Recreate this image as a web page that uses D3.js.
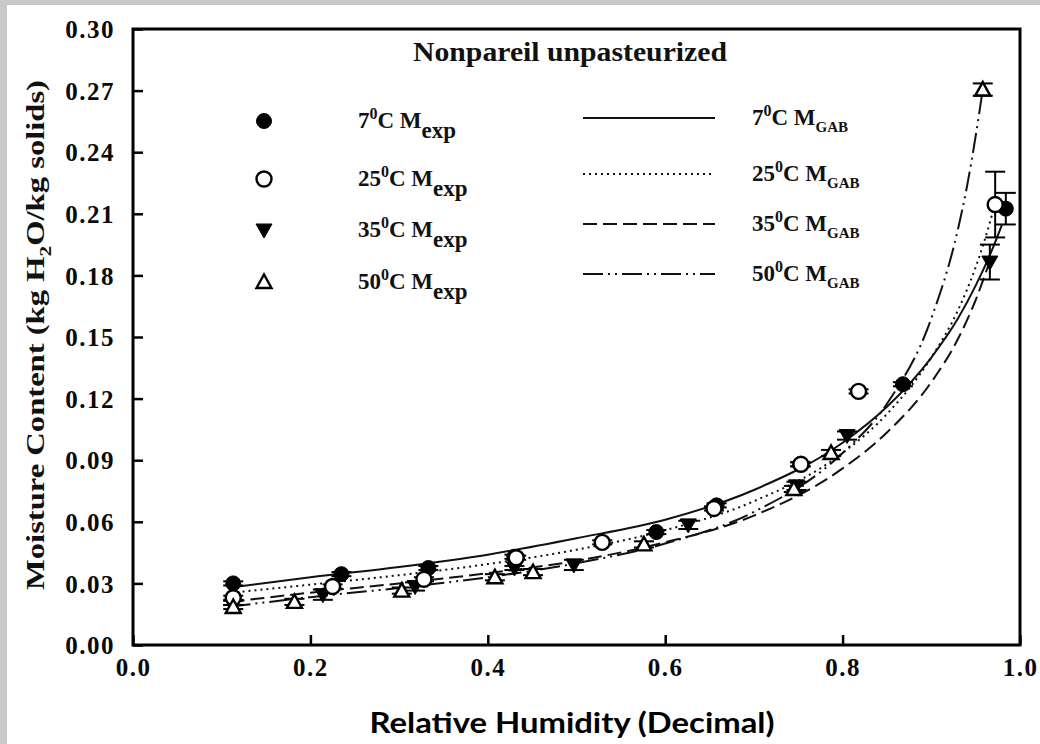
<!DOCTYPE html>
<html><head><meta charset="utf-8">
<script src="https://cdn.jsdelivr.net/npm/d3@7"></script>
<style>body{margin:0;background:#fff} svg{display:block}</style>
</head><body>
<svg id="chart" width="1040" height="744"></svg>
<script>
// ---------- data ----------
const chartTitle = "Nonpareil unpasteurized";
const xTitle = "Relative Humidity (Decimal)";
const yTitleParts = ["Moisture Content (kg H", "2", "O/kg solids)"];
const temps = ["7", "25", "35", "50"];
const xTickValues = [0, 0.2, 0.4, 0.6, 0.8, 1.0];
const yTickValues = [0, 0.03, 0.06, 0.09, 0.12, 0.15, 0.18, 0.21, 0.24, 0.27, 0.30];

// experimental points (aw, moisture, error)
const aw7  = [0.113, 0.235, 0.333, 0.430, 0.590, 0.658, 0.752, 0.868, 0.984];
const m7   = [0.030, 0.0345, 0.0375, 0.043, 0.055, 0.068, 0.088, 0.127, 0.2125];
const e7   = [0.001, 0.001, 0.001, 0.001, 0.001, 0.001, 0.001, 0.001, 0.0077];

const aw25 = [0.113, 0.225, 0.328, 0.432, 0.529, 0.655, 0.753, 0.818, 0.972];
const m25  = [0.023, 0.0285, 0.032, 0.0425, 0.050, 0.0665, 0.088, 0.1235, 0.2145];
const e25  = [0.001, 0.001, 0.001, 0.001, 0.001, 0.001, 0.001, 0.001, 0.016];

const aw35 = [0.113, 0.214, 0.318, 0.430, 0.497, 0.626, 0.748, 0.805, 0.966];
const m35  = [0.0205, 0.0245, 0.0285, 0.0375, 0.039, 0.0585, 0.0775, 0.102, 0.1865];
const e35  = [0.001, 0.0025, 0.002, 0.001, 0.0025, 0.002, 0.002, 0.002, 0.0085];

const aw50 = [0.113, 0.182, 0.303, 0.408, 0.451, 0.576, 0.745, 0.787, 0.958];
const m50  = [0.0185, 0.021, 0.0265, 0.033, 0.0355, 0.049, 0.076, 0.0935, 0.2705];
const e50  = [0.001, 0.0015, 0.0015, 0.0015, 0.0015, 0.0015, 0.0015, 0.0015, 0.003];

// GAB fitted curves
const fitAw7  = [0.11, 0.2, 0.3, 0.4, 0.5, 0.6, 0.7, 0.8, 0.85, 0.9, 0.93, 0.95, 0.97, 0.98];
const fitM7   = [0.028, 0.033, 0.038, 0.044, 0.052, 0.061, 0.0755, 0.0985, 0.116, 0.140, 0.159, 0.175, 0.194, 0.205];
const fitAw25 = [0.11, 0.2, 0.3, 0.4, 0.5, 0.6, 0.7, 0.8, 0.85, 0.9, 0.93, 0.95, 0.96, 0.972];
const fitM25  = [0.0254, 0.0294, 0.034, 0.0394, 0.0464, 0.0559, 0.070, 0.0935, 0.1125, 0.140, 0.163, 0.184, 0.197, 0.215];
const fitAw35 = [0.11, 0.2, 0.3, 0.4, 0.5, 0.6, 0.7, 0.8, 0.85, 0.9, 0.93, 0.95, 0.966];
const fitM35  = [0.021, 0.0255, 0.030, 0.035, 0.041, 0.050, 0.063, 0.086, 0.1035, 0.128, 0.149, 0.168, 0.187];
const fitAw50 = [0.11, 0.2, 0.3, 0.4, 0.5, 0.6, 0.7, 0.8, 0.85, 0.9, 0.93, 0.94, 0.95, 0.958];
const fitM50  = [0.0187, 0.0233, 0.0278, 0.033, 0.0398, 0.0494, 0.0648, 0.0935, 0.1175, 0.159, 0.2024, 0.2228, 0.2478, 0.2705];

// ---------- layout ----------
const W = 1040, H = 744;
const svg = d3.select("#chart");
const serif = "'Liberation Serif', 'Times New Roman', serif";
svg.append("rect").attr("width", W).attr("height", H).attr("fill", "#fff");
svg.append("rect").attr("x", 0).attr("y", 0).attr("width", W).attr("height", 5).attr("fill", "#c8c8c8");
svg.append("rect").attr("x", 0).attr("y", 0).attr("width", 7).attr("height", H).attr("fill", "#c8c8c8");

const x = d3.scaleLinear().domain([0, 1]).range([133, 1020]);
const y = d3.scaleLinear().domain([0, 0.30]).range([645, 29]);

// axes
const xAxis = svg.append("g").attr("transform", `translate(0,${y(0)})`)
  .call(d3.axisBottom(x).tickValues(xTickValues).tickSize(-10).tickPadding(10).tickFormat(d3.format(".1f")));
const yAxis = svg.append("g").attr("transform", `translate(${x(0)},0)`)
  .call(d3.axisLeft(y).tickValues(yTickValues).tickSize(-10).tickPadding(18).tickFormat(d3.format(".2f")));
[xAxis, yAxis].forEach(a => {
  a.select(".domain").remove();
  a.selectAll(".tick line").attr("stroke", "#000").attr("stroke-width", 2.5);
  a.selectAll(".tick text").attr("fill", "#0a0a0a").attr("font-family", serif)
    .attr("font-weight", "bold").attr("font-size", 25).attr("letter-spacing", 1.5);
});
xAxis.selectAll(".tick text").attr("dy", "0.85em");
yAxis.selectAll(".tick text").attr("dy", "0.35em");

// frame
svg.append("rect").attr("x", x(0)).attr("y", y(0.30)).attr("width", x(1) - x(0)).attr("height", y(0) - y(0.30))
  .attr("fill", "none").attr("stroke", "#000").attr("stroke-width", 3);

// title
svg.append("text").attr("x", 570).attr("y", 61).attr("text-anchor", "middle")
  .attr("font-family", serif).attr("font-weight", "bold").attr("font-size", 27)
  .attr("textLength", 314).attr("lengthAdjust", "spacingAndGlyphs").attr("fill", "#111").text(chartTitle);

// axis titles
svg.append("text").attr("x", 572).attr("y", 733).attr("text-anchor", "middle")
  .attr("font-family", "Lato, 'Open Sans', sans-serif").attr("font-weight", "bold").attr("font-size", 29)
  .attr("textLength", 405).attr("lengthAdjust", "spacingAndGlyphs").attr("fill", "#000").text(xTitle);

const yt = svg.append("text").attr("transform", "translate(44,335) rotate(-90)").attr("text-anchor", "middle")
  .attr("font-family", serif).attr("font-weight", "bold").attr("font-size", 26).attr("fill", "#111")
  .attr("textLength", 510).attr("lengthAdjust", "spacingAndGlyphs");
yt.append("tspan").text(yTitleParts[0]);
yt.append("tspan").attr("font-size", 17).attr("dy", 7).text(yTitleParts[1]);
yt.append("tspan").attr("dy", -7).text(yTitleParts[2]);

// ---------- series ----------
const series = [
  {aw: aw7, m: m7, e: e7, fa: fitAw7, fm: fitM7, marker: "fcircle", dash: null},
  {aw: aw25, m: m25, e: e25, fa: fitAw25, fm: fitM25, marker: "ocircle", dash: "2 4"},
  {aw: aw35, m: m35, e: e35, fa: fitAw35, fm: fitM35, marker: "dtri", dash: "14 6"},
  {aw: aw50, m: m50, e: e50, fa: fitAw50, fm: fitM50, marker: "otri", dash: "20 5 2 5 2 5"}
];

function markerPath(type) {
  if (type === "fcircle" || type === "ocircle") return d3.symbol(d3.symbolCircle, Math.PI * 7.5 * 7.5)();
  if (type === "dtri") return "M-8,-6L8,-6L0,8Z";
  return "M-7.5,6L7.5,6L0,-7.5Z";
}
function drawMarker(g, type, cx, cy) {
  const filled = type === "fcircle" || type === "dtri";
  g.append("path").attr("d", markerPath(type)).attr("transform", `translate(${cx},${cy})`)
    .attr("fill", filled ? "#000" : "#fff").attr("stroke", "#000").attr("stroke-width", filled ? 1 : 2.4);
}

const line = d3.line().x(d => x(d[0])).y(d => y(d[1])).curve(d3.curveMonotoneX);
series.forEach(s => {
  svg.append("path").datum(s.fa.map((a, i) => [a, s.fm[i]])).attr("d", line)
    .attr("fill", "none").attr("stroke", "#111").attr("stroke-width", 2)
    .attr("stroke-dasharray", s.dash);
});

// draw order: filled circles, down triangles, open circles, open triangles
[0, 2, 1, 3].forEach(k => {
  const s = series[k];
  const g = svg.append("g");
  s.aw.forEach((a, i) => {
    const cx = x(a), hi = y(s.m[i] + s.e[i]), lo = y(s.m[i] - s.e[i]);
    g.append("line").attr("x1", cx).attr("x2", cx).attr("y1", hi).attr("y2", lo).attr("stroke", "#000").attr("stroke-width", 2);
    [hi, lo].forEach(yy => g.append("line").attr("x1", cx - 10).attr("x2", cx + 10).attr("y1", yy).attr("y2", yy)
      .attr("stroke", "#000").attr("stroke-width", 2));
    drawMarker(g, s.marker, cx, y(s.m[i]));
  });
});

// ---------- legend ----------
const markerRows = [121, 179, 230, 282];
const lineRows = [118, 174, 224, 274];
function label(g, lx, ly, temp, sub, supSize, subSize, subDy) {
  const t = g.append("text").attr("x", lx).attr("y", ly).attr("font-family", serif)
    .attr("font-weight", "bold").attr("font-size", 23).attr("fill", "#111");
  t.append("tspan").text(temp);
  t.append("tspan").attr("dy", -9).attr("font-size", supSize).text("0");
  t.append("tspan").attr("dy", 9).text("C M");
  t.append("tspan").attr("dy", subDy).attr("font-size", subSize).text(sub);
}
const lg = svg.append("g");
series.forEach((s, i) => {
  drawMarker(lg, s.marker, 264, markerRows[i]);
  label(lg, 358, markerRows[i] + 7, temps[i], "exp", 16, 23, 10);
  lg.append("line").attr("x1", 583).attr("x2", 715).attr("y1", lineRows[i]).attr("y2", lineRows[i])
    .attr("stroke", "#111").attr("stroke-width", 2).attr("stroke-dasharray", s.dash);
  label(lg, 752, lineRows[i] + 7, temps[i], "GAB", 16, 15, 7);
});
</script>
</body></html>
